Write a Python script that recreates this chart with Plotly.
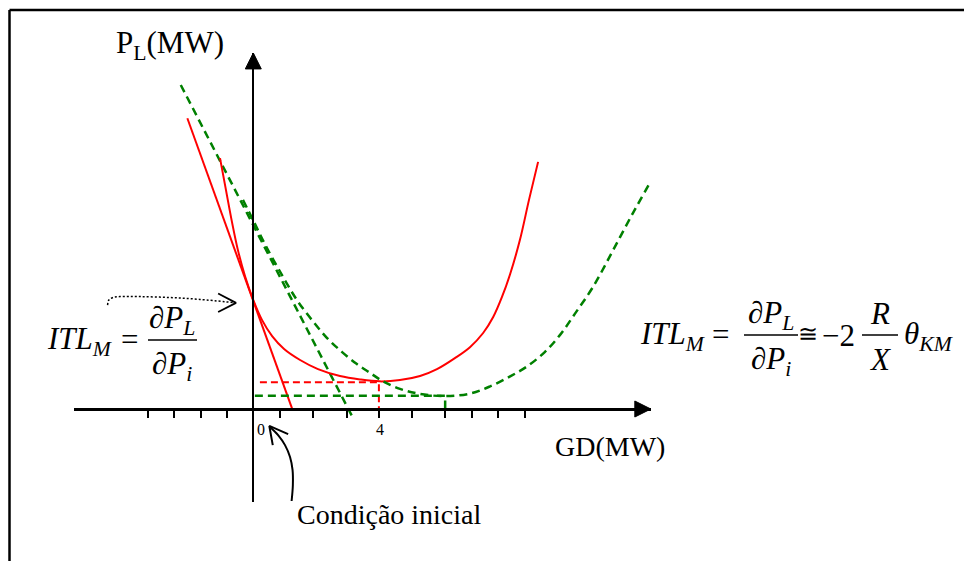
import plotly.graph_objects as go

W, H = 964, 561
ORIGIN_PX = (253.3, 409.0)   # pixel position of the diagram origin
UNIT = 31.4                  # pixels per diagram unit
SERIF = "Liberation Serif, Times New Roman, serif"

# ---------------- data (diagram units) ----------------
tick_positions = [-3.35, -2.53, -1.67, -0.84, 0.0, 0.85, 1.90, 2.97, 4.00, 5.05, 6.11, 6.96, 7.80, 8.64]
label_ticks = [0, 4]
label_text = ["0", "4"]

red_x = [-1.06, -0.87, -0.68, -0.49, -0.26, 0.00, 0.28, 0.60, 0.98, 1.49, 2.06, 2.76, 3.40, 4.02,
         4.67, 5.31, 5.85, 6.42, 6.90, 7.32, 7.64, 7.92, 8.18, 8.49, 8.78, 9.07]
red_y = [7.99, 6.97, 5.96, 5.06, 4.22, 3.47, 2.83, 2.32, 1.91, 1.56, 1.27, 1.05, 0.94, 0.88,
         0.92, 1.05, 1.27, 1.62, 1.97, 2.42, 2.93, 3.57, 4.30, 5.38, 6.66, 7.87]

red_tangent_x = [-2.10, 1.25]
red_tangent_y = [9.26, -0.03]

green_x = [-0.33, 0.02, 0.37, 0.91, 1.39, 1.87, 2.35, 2.82, 3.30, 3.72, 4.13, 4.67, 5.31, 6.11,
           6.90, 7.54, 8.18, 8.71, 9.29, 9.77, 10.24, 10.82, 11.46, 12.09, 12.63]
green_y = [6.66, 5.96, 5.25, 4.27, 3.47, 2.83, 2.26, 1.82, 1.43, 1.15, 0.88, 0.64, 0.48, 0.41,
           0.49, 0.72, 1.04, 1.35, 1.82, 2.36, 3.03, 3.89, 5.06, 6.24, 7.20]

green_tangent_x = [-2.31, 3.14]
green_tangent_y = [10.32, -0.22]

red_min_x, red_min_y, red_level_start = 4.00, 0.85, 0.21
green_min_x, green_min_y, green_level_start = 6.11, 0.42, 0.05

# pointer arrows (diagram units)
dotted_x = [-4.64, -4.60, -4.47, -4.25, -3.61, -2.65, -1.70, -0.65]
dotted_y = [3.31, 3.47, 3.55, 3.58, 3.58, 3.55, 3.49, 3.39]
dotted_head_x = [-1.12, -0.55, -1.12]
dotted_head_y = [3.68, 3.38, 3.09]

init_x = [1.22, 1.26, 1.25, 1.17, 1.01, 0.79, 0.53]
init_y = [-2.93, -2.42, -1.94, -1.53, -1.15, -0.83, -0.57]
init_head_x = [1.11, 0.51, 0.62]
init_head_y = [-0.80, -0.54, -1.15]

x_range = [-5.71, 12.66]
y_range = [-2.95, 11.34]


def px(x, y):
    """pixel -> paper coordinates"""
    return x / W, 1 - y / H


fig = go.Figure()

# tangent lines
fig.add_trace(go.Scatter(x=red_tangent_x, y=red_tangent_y, mode="lines",
                         line=dict(color="#ff0000", width=2)))
fig.add_trace(go.Scatter(x=green_tangent_x, y=green_tangent_y, mode="lines",
                         line=dict(color="#008000", width=2.5, dash="8px,5px")))
# loss curves
fig.add_trace(go.Scatter(x=red_x, y=red_y, mode="lines", line_shape="spline",
                         line=dict(color="#ff0000", width=2)))
fig.add_trace(go.Scatter(x=green_x, y=green_y, mode="lines", line_shape="spline",
                         line=dict(color="#008000", width=2.5, dash="8px,5px")))
# minimum guides
fig.add_trace(go.Scatter(x=[red_level_start, red_min_x, red_min_x], y=[red_min_y, red_min_y, 0],
                         mode="lines", line=dict(color="#ff0000", width=2, dash="7px,4px")))
fig.add_trace(go.Scatter(x=[green_level_start, green_min_x, green_min_x], y=[green_min_y, green_min_y, 0],
                         mode="lines", line=dict(color="#008000", width=2.5, dash="8px,5px")))
# pointer arrows
fig.add_trace(go.Scatter(x=dotted_x, y=dotted_y, mode="lines", line_shape="spline",
                         line=dict(color="black", width=1.5, dash="2px,2px")))
fig.add_trace(go.Scatter(x=dotted_head_x, y=dotted_head_y, mode="lines",
                         line=dict(color="black", width=1.8)))
fig.add_trace(go.Scatter(x=init_x, y=init_y, mode="lines", line_shape="spline",
                         line=dict(color="black", width=2)))
fig.add_trace(go.Scatter(x=init_head_x, y=init_head_y, mode="lines",
                         line=dict(color="black", width=2)))

# axes geometry
xd = [(ORIGIN_PX[0] + x_range[0] * UNIT) / W, (ORIGIN_PX[0] + x_range[1] * UNIT) / W]
yd = [1 - (ORIGIN_PX[1] - y_range[0] * UNIT) / H, 1 - (ORIGIN_PX[1] - y_range[1] * UNIT) / H]

fig.update_layout(
    width=W, height=H,
    margin=dict(l=0, r=0, t=0, b=0, autoexpand=False),
    paper_bgcolor="white", plot_bgcolor="white",
    showlegend=False,
    xaxis=dict(domain=xd, range=x_range, anchor="free", position=1 - ORIGIN_PX[1] / H,
               showline=True, linecolor="black", linewidth=2.5,
               ticks="outside", ticklen=7, tickwidth=2, tickcolor="black",
               tickmode="array", tickvals=tick_positions, showticklabels=False,
               showgrid=False, zeroline=False, fixedrange=True),
    yaxis=dict(domain=yd, range=y_range, anchor="free", position=ORIGIN_PX[0] / W,
               showline=True, linecolor="black", linewidth=2,
               ticks="", showticklabels=False, showgrid=False, zeroline=False, fixedrange=True),
)

# arrow heads of axes
ahx = 16 / UNIT
ahw = 8 / UNIT
fig.add_shape(type="path", xref="x", yref="y",
              path=f"M {x_range[1]},0 L {x_range[1]-ahx},{ahw} L {x_range[1]-ahx},{-ahw} Z",
              fillcolor="black", line=dict(color="black", width=1))
fig.add_shape(type="path", xref="x", yref="y",
              path=f"M 0,{y_range[1]} L {ahw},{y_range[1]-ahx} L {-ahw},{y_range[1]-ahx} Z",
              fillcolor="black", line=dict(color="black", width=1))

# frame (top and left only)
x0, y0 = px(9.5, 10)
x1, _ = px(964, 10)
_, y1 = px(9.5, 561)
fig.add_shape(type="line", xref="paper", yref="paper", x0=x0, y0=y0, x1=x1, y1=y0,
              line=dict(color="black", width=2.5))
fig.add_shape(type="line", xref="paper", yref="paper", x0=x0, y0=y0, x1=x0, y1=y1,
              line=dict(color="black", width=2.5))


def text(s, x, y, size, xanchor="center", yanchor="middle", family=SERIF):
    fx, fy = px(x, y)
    fig.add_annotation(text=s, x=fx, y=fy, xref="paper", yref="paper", showarrow=False,
                       xanchor=xanchor, yanchor=yanchor,
                       font=dict(family=family, size=size, color="black"))


def bar(xa, xb, y, w=1.5):
    fa, fy = px(xa, y)
    fb, _ = px(xb, y)
    fig.add_shape(type="line", xref="paper", yref="paper", x0=fa, y0=fy, x1=fb, y1=fy,
                  line=dict(color="black", width=w))


# tick labels
for v, t, dx in zip(label_ticks, label_text, [8, 1]):
    fig.add_annotation(text=t, x=v, y=0, xref="x", yref="y", showarrow=False,
                       xshift=dx, yshift=-20, font=dict(family=SERIF, size=16, color="black"))

# axis titles
text("P<sub>L</sub>(MW)", 169.5, 45, 31)
text("GD(MW)", 610, 446, 28)
text("Condição inicial", 389, 514, 28)

# left formula
text("<i>ITL</i><sub><i>M</i></sub>", 45, 341, 31, xanchor="left")
text("=", 129, 339, 31)
bar(148, 197, 340)
text("∂<i>P</i><sub><i>L</i></sub>", 172, 320, 31)
text("∂<i>P</i><sub><i>i</i></sub>", 172, 366, 31)

# right formula
text("<i>ITL</i><sub><i>M</i></sub>", 638, 336, 31, xanchor="left")
text("=", 720, 334, 31)
bar(744, 798, 335)
text("∂<i>P</i><sub><i>L</i></sub>", 771, 315, 31)
text("∂<i>P</i><sub><i>i</i></sub>", 771, 361, 31)
text("≅", 808, 334, 24, family="DejaVu Serif, serif")
text("−2", 838, 335, 31)
bar(862, 898, 335)
text("<i>R</i>", 880, 313, 31)
text("<i>X</i>", 880, 359, 31)
text("<i>θ</i><sub><i>KM</i></sub>", 902, 336, 31, xanchor="left")

fig.write_html("out.html", config={"displayModeBar": False},
               post_script="document.body.style.margin='0';")
